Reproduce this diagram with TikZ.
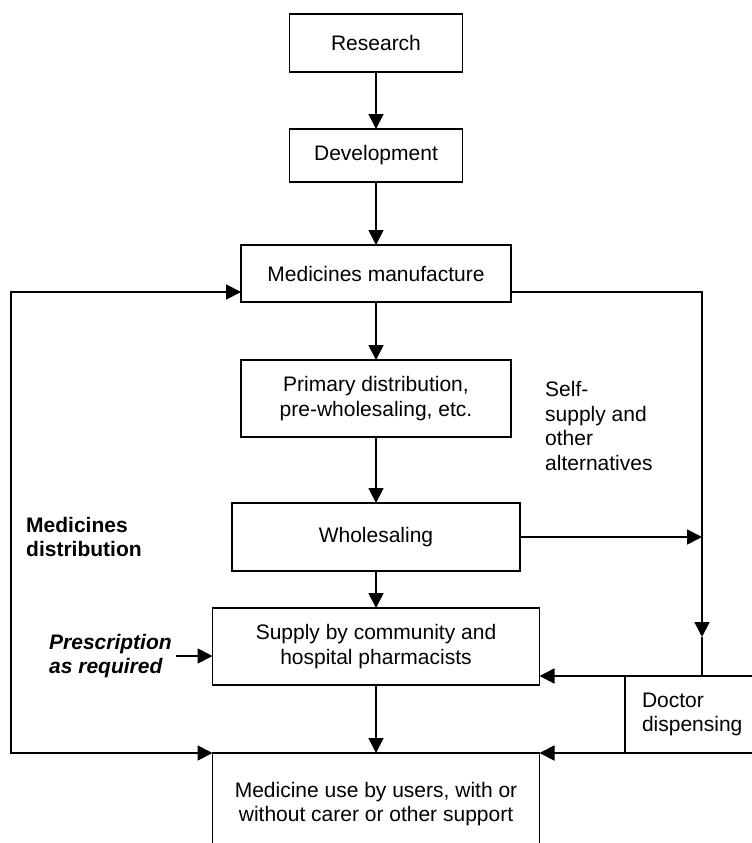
\documentclass[tikz,border=0pt]{standalone}
\usepackage{fontspec}
\setmainfont{Liberation Sans}
\usetikzlibrary{arrows.meta}
\begin{document}
\begin{tikzpicture}[x=1pt,y=-1pt,
  >={Triangle[length=15pt,width=15pt]},
  txt/.style={font=\fontsize{21}{24.5}\selectfont},
  box/.style={txt, draw, line width=1.8pt, align=center, inner sep=0pt, outer sep=0pt},
  line/.style={line width=1.8pt},
  note/.style={txt, align=left, inner sep=0pt, anchor=west},
  boldnote/.style={note, font=\fontsize{21}{24.5}\selectfont\bfseries},
  itnote/.style={note, font=\fontsize{21}{24.5}\selectfont\bfseries\itshape}]
\useasboundingbox (0,0) rectangle (752,843);

% main chain
\node[box, minimum width=173pt, minimum height=58pt] (res) at (376,43) {Research};
\node[box, minimum width=173pt, minimum height=53pt] (dev) at (376,155.5) {Development};
\node[box, minimum width=270pt, minimum height=57pt] (man) at (376,273.5) {Medicines manufacture};
\node[box, minimum width=270pt, minimum height=77pt] (pri) at (376,398.5) {Primary distribution,\\pre-wholesaling, etc.};
\node[box, minimum width=288pt, minimum height=68pt] (who) at (376,537) {Wholesaling};
\node[box, minimum width=327pt, minimum height=77pt] (sup) at (376,646.5) {Supply by community and\\hospital pharmacists};
\node[box, minimum width=327pt, minimum height=102pt] (use) at (376,804) {Medicine use by users, with or\\without carer or other support};
\node[box, minimum width=150pt, minimum height=77pt, align=left, text width=116pt, anchor=north west] (doc) at (625,676) {Doctor\\dispensing};

% side labels
\node[boldnote] (dist) at (26,537) {Medicines\\distribution};
\node[itnote] (pres) at (49,656) {Prescription\\as required};
\node[note] (self) at (545,426) {Self-\\supply and\\other\\alternatives};

% routing points
\coordinate (lt) at (11,292);
\coordinate (lb) at (11,753);
\coordinate (rt) at (702,292);
\coordinate (rm) at (702,637);

% vertical flow
\draw[line,->] (res) -- (dev);
\draw[line,->] (dev) -- (man);
\draw[line,->] (man) -- (pri);
\draw[line,->] (pri) -- (who);
\draw[line,->] (who) -- (sup);
\draw[line,->] (sup) -- (use);

% medicines distribution loop
\draw[line,<->] (use.north west) -- (lb) -- (lt) -- (man.west |- lt);

% self-supply and other alternatives
\draw[line,->] (man.east |- rt) -- (rt) -- (rm);
\draw[line] (rm) -- (rm |- doc.north);
\draw[line,->] (who.east) -- (rt |- who.east);
\draw[line,->] (doc.north west) -- (sup.east |- doc.north west);
\draw[line,->] (doc.south west) -- (use.north east);

% prescription
\draw[line,->] ([xshift=4pt]pres.east) -- (sup.west |- pres.east);
\end{tikzpicture}
\end{document}
